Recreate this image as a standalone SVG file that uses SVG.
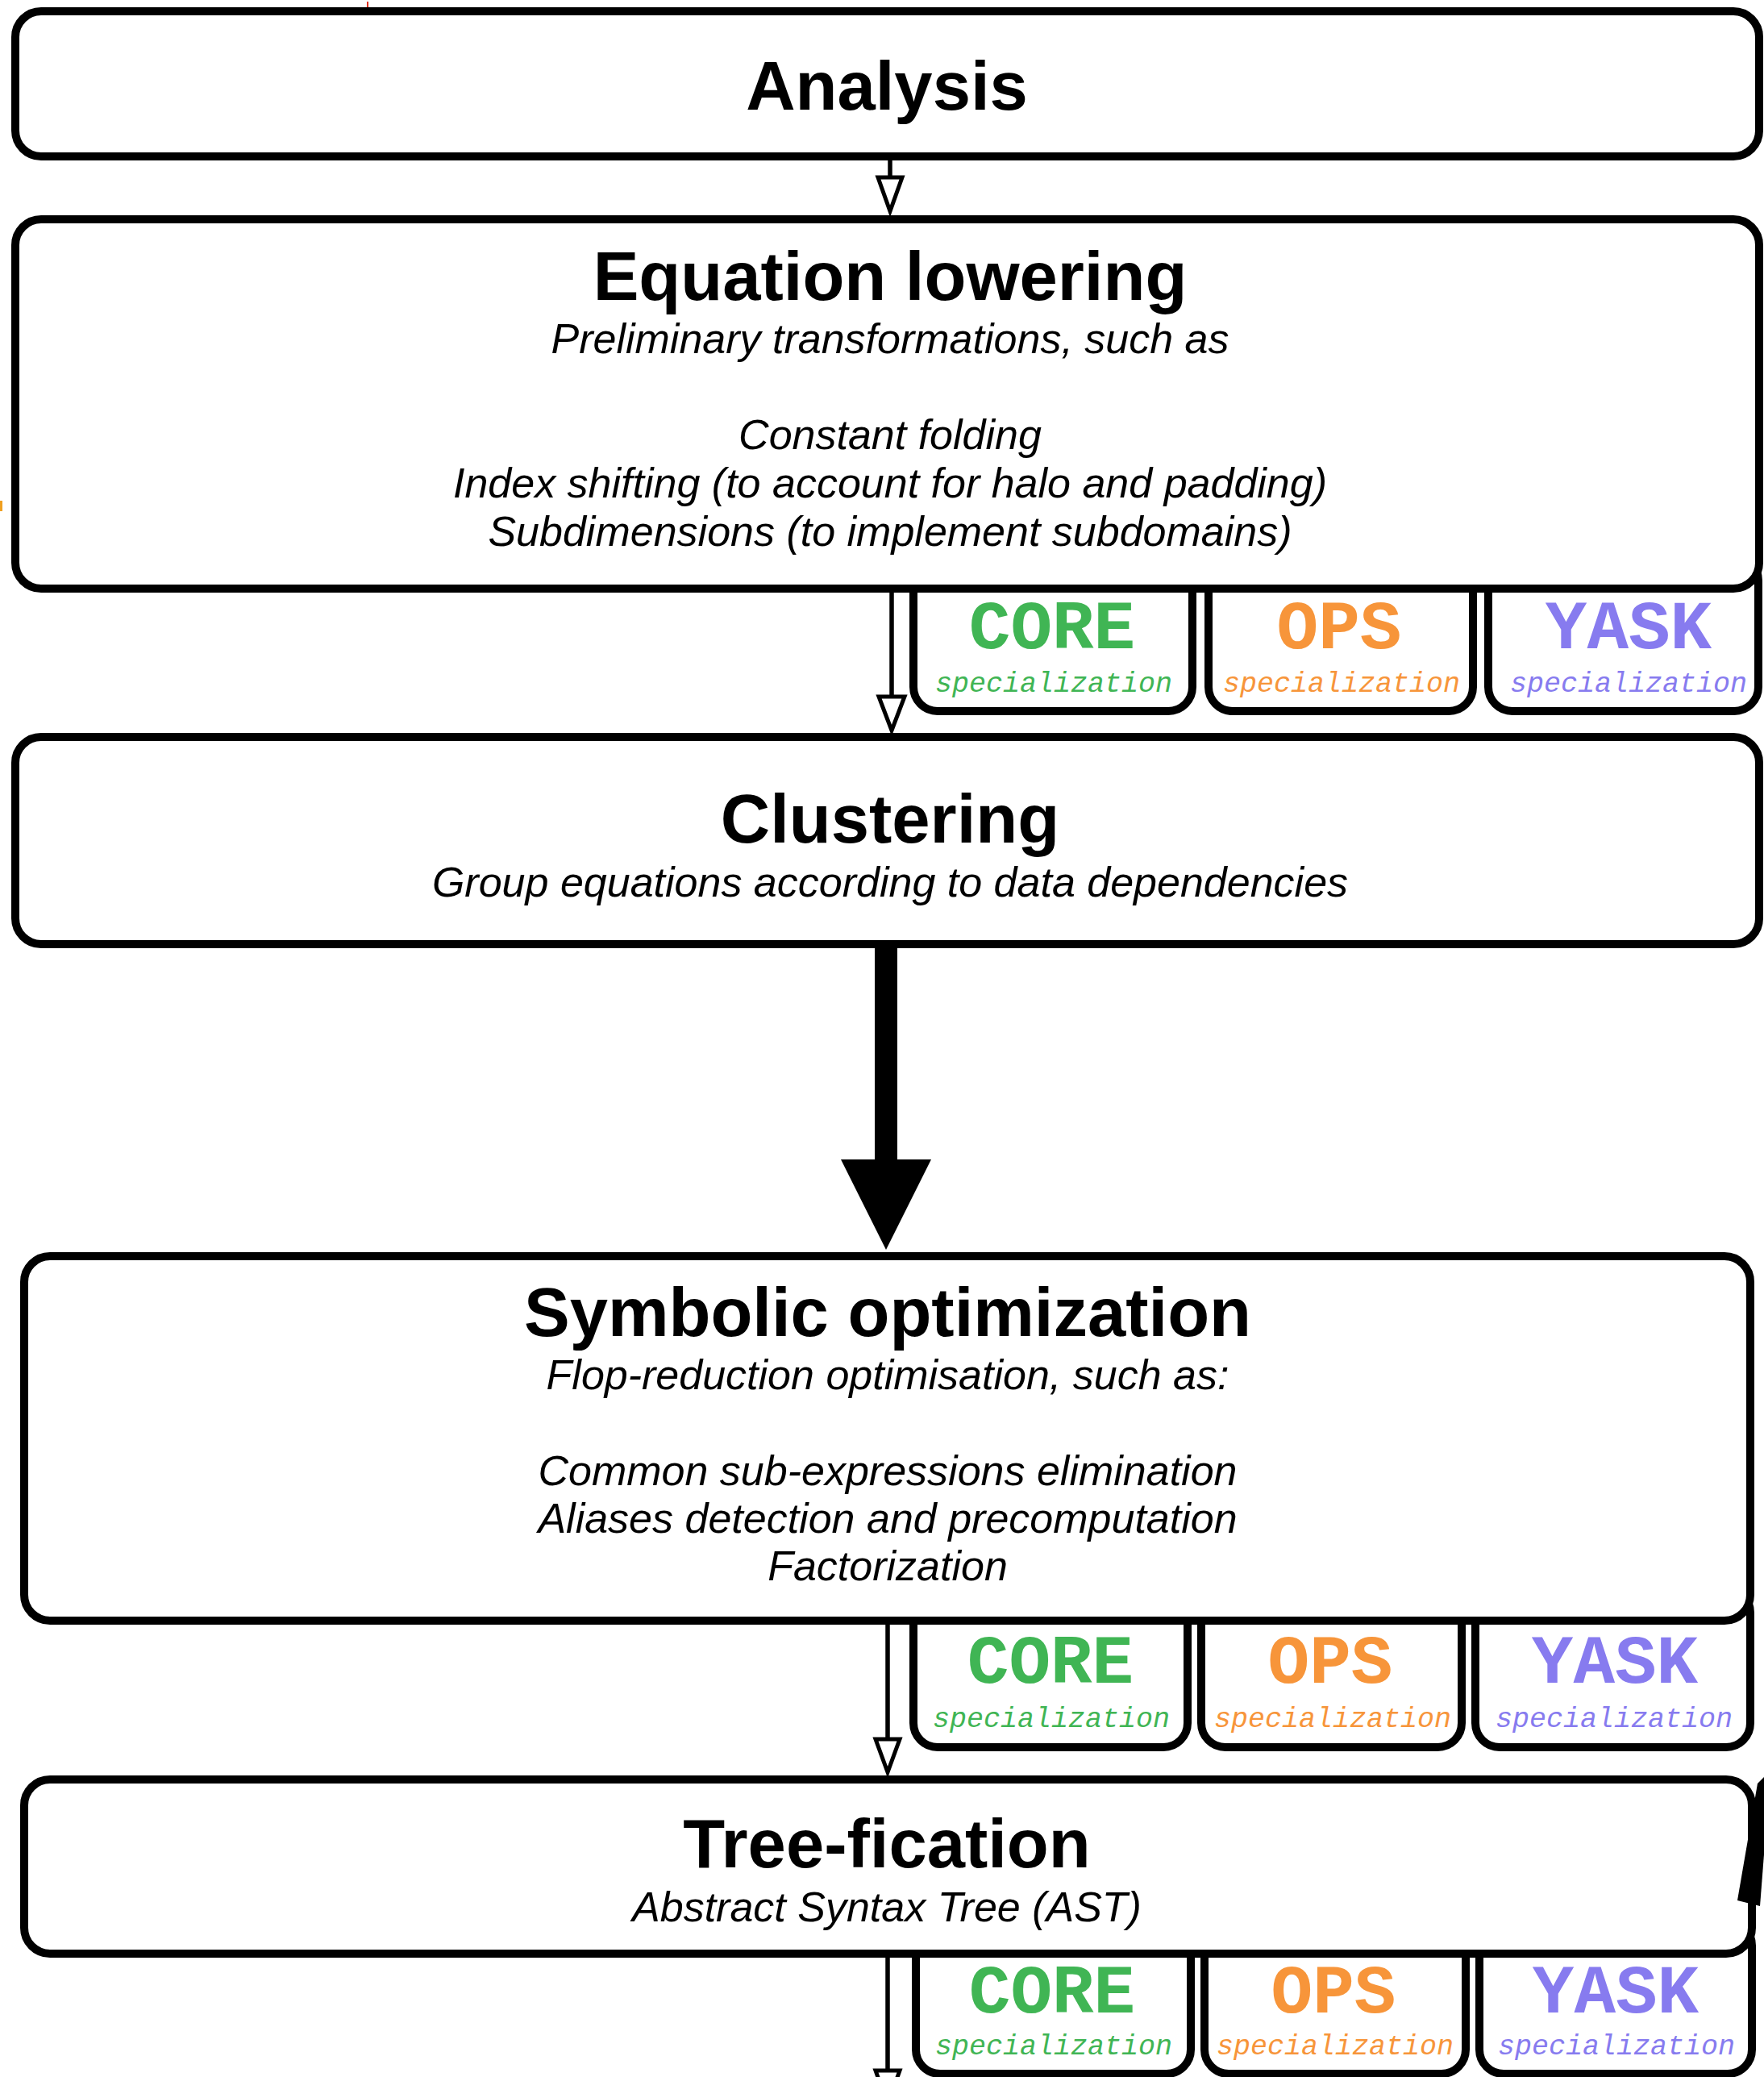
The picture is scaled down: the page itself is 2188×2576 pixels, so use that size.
<svg xmlns="http://www.w3.org/2000/svg" width="2188" height="2576" viewBox="0 0 2188 2576">
  <style>
    .box { fill: #ffffff; stroke: #000000; stroke-width: 10; }
    .tab { fill: #ffffff; stroke: #000000; stroke-width: 10; }
    .title { font-family: "Liberation Sans", Arial, sans-serif; font-weight: bold; font-size: 85px; text-anchor: middle; fill: #000000; }
    .sub { font-family: "Liberation Sans", Arial, sans-serif; font-style: italic; font-size: 52px; text-anchor: middle; fill: #000000; }
    .backend { font-family: "Liberation Mono", "Courier New", monospace; font-weight: bold; font-size: 86px; text-anchor: middle; }
    .spec { font-family: "Liberation Mono", "Courier New", monospace; font-style: italic; font-size: 35px; text-anchor: middle; }
    .core { fill: #40b554; }
    .ops { fill: #f7953a; }
    .yask { fill: #877bef; }
    .wire { stroke: #000000; stroke-width: 5.5; fill: none; }
    .head { fill: #ffffff; stroke: #000000; stroke-width: 5; stroke-linejoin: miter; }
  </style>

  <!-- stray marks at the edges of the canvas -->
  <line x1="456" y1="2" x2="456" y2="10" stroke="#e0301e" stroke-width="2"/>
  <rect x="0" y="621" width="3" height="13" fill="#f0a020"/>

  <!-- backend tabs sit behind the pass boxes -->
  <g id="tabs-lowering">
    <g id="tab-lowering-core">
      <rect class="tab" x="1133" y="690" width="346" height="192" rx="30"/>
      <text class="backend core" x="1305" y="804">CORE</text>
      <text class="spec core" x="1307" y="858">specialization</text>
    </g>
    <g id="tab-lowering-ops">
      <rect class="tab" x="1499" y="690" width="328" height="192" rx="30"/>
      <text class="backend ops" x="1661" y="804">OPS</text>
      <text class="spec ops" x="1664" y="858">specialization</text>
    </g>
    <g id="tab-lowering-yask">
      <rect class="tab" x="1846" y="690" width="335" height="192" rx="30"/>
      <text class="backend yask" x="2020" y="804">YASK</text>
      <text class="spec yask" x="2020" y="858">specialization</text>
    </g>
  </g>

  <g id="tabs-symbolic">
    <g id="tab-symbolic-core">
      <rect class="tab" x="1133" y="1970" width="340" height="197" rx="30"/>
      <text class="backend core" x="1303" y="2087">CORE</text>
      <text class="spec core" x="1304" y="2142">specialization</text>
    </g>
    <g id="tab-symbolic-ops">
      <rect class="tab" x="1490" y="1970" width="323" height="197" rx="30"/>
      <text class="backend ops" x="1650" y="2087">OPS</text>
      <text class="spec ops" x="1653" y="2142">specialization</text>
    </g>
    <g id="tab-symbolic-yask">
      <rect class="tab" x="1830" y="1970" width="341" height="197" rx="30"/>
      <text class="backend yask" x="2003" y="2087">YASK</text>
      <text class="spec yask" x="2002" y="2142">specialization</text>
    </g>
  </g>

  <g id="tabs-tree">
    <g id="tab-tree-core">
      <rect class="tab" x="1136" y="2383" width="341" height="189" rx="30"/>
      <text class="backend core" x="1305" y="2496">CORE</text>
      <text class="spec core" x="1307" y="2548">specialization</text>
    </g>
    <g id="tab-tree-ops">
      <rect class="tab" x="1494" y="2383" width="324" height="189" rx="30"/>
      <text class="backend ops" x="1654" y="2496">OPS</text>
      <text class="spec ops" x="1656" y="2548">specialization</text>
    </g>
    <g id="tab-tree-yask">
      <rect class="tab" x="1835" y="2383" width="338" height="189" rx="30"/>
      <text class="backend yask" x="2004" y="2496">YASK</text>
      <text class="spec yask" x="2005" y="2548">specialization</text>
    </g>
  </g>

  <!-- pipeline passes -->
  <g id="analysis">
    <rect class="box" x="19" y="14" width="2163" height="180" rx="32"/>
    <text class="title" x="1100" y="136">Analysis</text>
  </g>

  <g id="equation-lowering">
    <rect class="box" x="19" y="272" width="2163" height="458" rx="32"/>
    <text class="title" x="1104" y="372">Equation lowering</text>
    <text class="sub" x="1104" y="438">Preliminary transformations, such as</text>
    <text class="sub" x="1104" y="557">Constant folding</text>
    <text class="sub" x="1104" y="617">Index shifting (to account for halo and padding)</text>
    <text class="sub" x="1104" y="677">Subdimensions (to implement subdomains)</text>
  </g>

  <g id="clustering">
    <rect class="box" x="19" y="914" width="2163" height="257" rx="32"/>
    <text class="title" x="1104" y="1045">Clustering</text>
    <text class="sub" x="1104" y="1112">Group equations according to data dependencies</text>
  </g>

  <g id="symbolic-optimization">
    <rect class="box" x="30" y="1558" width="2141" height="452" rx="32"/>
    <text class="title" x="1101" y="1657">Symbolic optimization</text>
    <text class="sub" x="1101" y="1723">Flop-reduction optimisation, such as:</text>
    <text class="sub" x="1101" y="1842">Common sub-expressions elimination</text>
    <text class="sub" x="1101" y="1901">Aliases detection and precomputation</text>
    <text class="sub" x="1101" y="1960">Factorization</text>
  </g>

  <g id="tree-fication">
    <rect class="box" x="30" y="2207" width="2143" height="216" rx="32"/>
    <text class="title" x="1100" y="2316">Tree-fication</text>
    <text class="sub" x="1100" y="2383">Abstract Syntax Tree (AST)</text>
  </g>

  <!-- connectors -->
  <g id="connectors">
    <line class="wire" x1="1104" y1="199" x2="1104" y2="220"/>
    <polygon class="head" points="1089,220 1119,220 1104,262"/>

    <line class="wire" x1="1106" y1="735" x2="1106" y2="864"/>
    <polygon class="head" points="1090,864 1122,864 1106,906"/>

    <rect x="1085" y="1176" width="28" height="264" fill="#000000"/>
    <polygon points="1043,1438 1155,1438 1099,1550" fill="#000000"/>

    <line class="wire" x1="1101" y1="2015" x2="1101" y2="2157"/>
    <polygon class="head" points="1086,2157 1116,2157 1101,2198"/>

    <line class="wire" x1="1101" y1="2428" x2="1101" y2="2568"/>
    <polygon class="head" points="1086,2568 1116,2568 1101,2610"/>

    <!-- tail of a heavy connector entering from the right edge -->
    <polygon points="2180,2212 2188,2204 2188,2300 2183,2364 2155,2357" fill="#000000"/>
  </g>
</svg>
